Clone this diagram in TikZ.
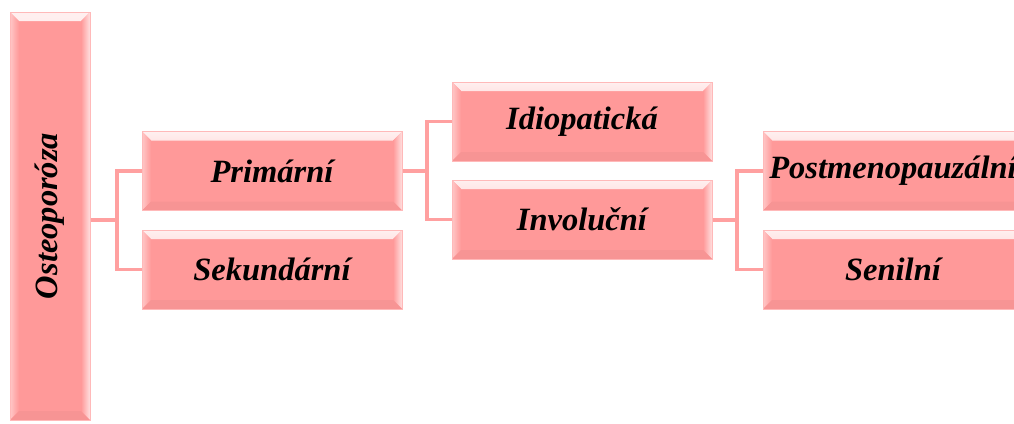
\documentclass[tikz,border=0pt]{standalone}
\usepackage{fontspec}
\setmainfont{Liberation Serif}
\usetikzlibrary{calc,backgrounds}
\definecolor{boxfill}{RGB}{255,153,153}
\definecolor{boxedge}{RGB}{255,185,185}
\definecolor{linkcol}{RGB}{255,160,160}
\tikzset{
  bevelbox/.style={
    draw=boxedge, line width=0.8pt, fill=boxfill, rectangle,
    font=\fontsize{32.5}{36}\selectfont\bfseries\itshape,
    inner sep=0pt,
    path picture={
      \def\bw{9}
      % upper bevel: bright highlight fading into the face
      \shade[top color=white!85!boxfill, bottom color=boxfill]
        (path picture bounding box.north west) -- (path picture bounding box.north east)
        -- ($(path picture bounding box.north east)+(-\bw,-\bw)$)
        -- ($(path picture bounding box.north west)+(\bw,-\bw)$) -- cycle;
      % left bevel
      \shade[left color=white!45!boxfill, right color=boxfill]
        (path picture bounding box.north west)
        -- ($(path picture bounding box.north west)+(\bw,-\bw)$)
        -- ($(path picture bounding box.south west)+(\bw,\bw)$)
        -- (path picture bounding box.south west) -- cycle;
      % right bevel
      \shade[left color=boxfill, right color=white!70!boxfill]
        (path picture bounding box.north east)
        -- ($(path picture bounding box.north east)+(-\bw,-\bw)$)
        -- ($(path picture bounding box.south east)+(-\bw,\bw)$)
        -- (path picture bounding box.south east) -- cycle;
      % lower bevel
      \fill[boxfill!97!black]
        (path picture bounding box.south west)
        -- ($(path picture bounding box.south west)+(\bw,\bw)$)
        -- ($(path picture bounding box.south east)+(-\bw,\bw)$)
        -- (path picture bounding box.south east) -- cycle;
    }
  },
  leafbox/.style={bevelbox, minimum width=260pt, minimum height=79pt},
  link/.style={draw=linkcol, line width=3.6pt}
}
\begin{document}
\begin{tikzpicture}[x=1pt,y=1pt]
\useasboundingbox (0,0) rectangle (1014,-423);
\clip (0,0) rectangle (1014,-423);

% root of the tree
\node[bevelbox, minimum width=80pt, minimum height=408pt] (root) at (50,-216)
  {\rotatebox{90}{Osteoporóza}};

% first level
\node[leafbox] (prim) at (272,-171) {Primární};
\node[leafbox] (sek)  at (272,-269.5) {Sekundární};

% second level
\node[leafbox] (idio) at (582,-121.5) {Idiopatická};
\node[leafbox] (invo) at (582,-219.5) {Involuční};

% third level
\node[leafbox] (post) at (893,-171) {Postmenopauzální};
\node[leafbox] (seni) at (893,-269.5) {Senilní};

% junction points of the connectors
\coordinate (j1) at (117,-220.25);
\coordinate (j2) at (427,-171);
\coordinate (j3) at (737,-220.25);

% connectors sit behind the boxes
\begin{scope}[on background layer]
\draw[link] (root.east |- j1) -- (j1);
\draw[link] (prim.west) -| (j1) |- (sek.west);
\draw[link] (prim.east) -- (j2);
\draw[link] (idio.west) -| (j2) |- (invo.west);
\draw[link] (invo.east |- j3) -- (j3);
\draw[link] (post.west) -| (j3) |- (seni.west);
\end{scope}
\end{tikzpicture}
\end{document}
